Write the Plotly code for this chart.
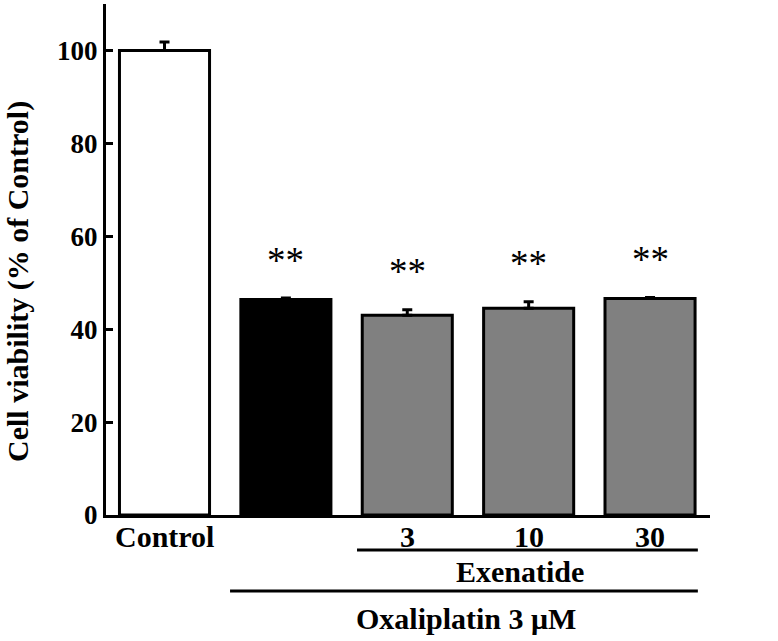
import plotly.graph_objects as go

categories = ["Control", "Oxaliplatin", "Exe 3", "Exe 10", "Exe 30"]
values = [100.0, 46.4, 43.0, 44.5, 46.6]
errors = [1.8, 0.3, 1.2, 1.4, 0.2]
fills = ["#ffffff", "#000000", "#808080", "#808080", "#808080"]
stars = ["", "**", "**", "**", "**"]
x_labels = ["Control", "", "3", "10", "30"]
y_ticks = [0, 20, 40, 60, 80, 100]
unit_label = "(nM)"
group1_label = "Exenatide"
group2_label = "Oxaliplatin 3 μM"
y_title = "Cell viability (% of Control)"

FONT = "Liberation Serif"
xs = list(range(len(categories)))

fig = go.Figure()
fig.add_trace(go.Bar(
    x=xs, y=values, width=0.742,
    marker=dict(color=fills, line=dict(color="black", width=3)),
    error_y=dict(type="data", symmetric=False, array=errors,
                 arrayminus=[0] * len(errors), color="black", thickness=3, width=5),
    showlegend=False, hoverinfo="skip",
))

annotations = []
for i, (v, e, s) in enumerate(zip(values, errors, stars)):
    if s:
        annotations.append(dict(x=i, y=v + e + 3.3, xref="x", yref="y", text=s,
                                showarrow=False, yanchor="bottom",
                                font=dict(family=FONT, size=37, color="black")))
for i, lab in enumerate(x_labels):
    if lab:
        annotations.append(dict(x=i, y=-0.043, xref="x", yref="paper", text=f"<b>{lab}</b>",
                                showarrow=False, yanchor="middle",
                                font=dict(family=FONT, size=30, color="black")))
annotations.append(dict(x=4.76, y=-0.043, xref="x", yref="paper", text=f"<b>{unit_label}</b>",
                        showarrow=False, yanchor="middle", xanchor="center",
                        font=dict(family=FONT, size=30, color="black")))
annotations.append(dict(x=2.93, y=-0.1115, xref="x", yref="paper", text=f"<b>{group1_label}</b>",
                        showarrow=False, yanchor="middle",
                        font=dict(family=FONT, size=30, color="black")))
annotations.append(dict(x=2.48, y=-0.2035, xref="x", yref="paper", text=f"<b>{group2_label}</b>",
                        showarrow=False, yanchor="middle",
                        font=dict(family=FONT, size=30, color="black")))
annotations.append(dict(x=-0.1457, y=0.458, xref="paper", yref="paper", text=f"<b>{y_title}</b>",
                        showarrow=False, textangle=-90, xanchor="center", yanchor="middle",
                        font=dict(family=FONT, size=30, color="black")))

shapes = [
    dict(type="line", xref="x", yref="paper", x0=1.586, x1=4.394, y0=-0.0685, y1=-0.0685,
         line=dict(color="black", width=3)),
    dict(type="line", xref="x", yref="paper", x0=0.54, x1=4.394, y0=-0.1487, y1=-0.1487,
         line=dict(color="black", width=3)),
]

fig.update_layout(
    width=778, height=641,
    margin=dict(l=106, r=68, t=4, b=126),
    paper_bgcolor="white", plot_bgcolor="white",
    font=dict(family=FONT, color="black"),
    annotations=annotations, shapes=shapes,
    hovermode=False,
)
fig.update_xaxes(range=[-0.482, 4.494], showticklabels=False, ticks="",
                 showline=True, linecolor="black", linewidth=3, showgrid=False, zeroline=False)
fig.update_yaxes(range=[0, 110], tickvals=y_ticks, ticktext=[f"<b>{t}</b>" for t in y_ticks],
                 ticks="inside", ticklen=7, tickwidth=3, tickcolor="black",
                 tickfont=dict(family=FONT, size=27, color="black"),
                 showline=True, linecolor="black", linewidth=3, showgrid=False, zeroline=False)

fig.write_html("out.html", config={"displayModeBar": False},
               post_script=["document.body.style.margin='0px';"])
